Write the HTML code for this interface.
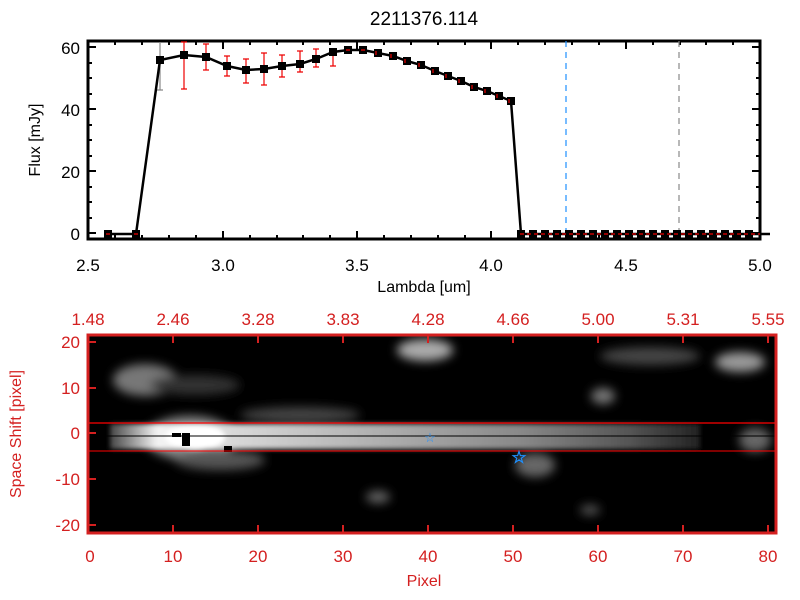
<!DOCTYPE html>
<html><head><meta charset="utf-8"><style>
html,body{margin:0;padding:0;background:#fff;}
svg{display:block;font-family:"Liberation Sans",sans-serif;}
</style></head><body>
<svg width="800" height="600" viewBox="0 0 800 600" xmlns="http://www.w3.org/2000/svg">
<rect width="800" height="600" fill="#fff"/>
<text x="424" y="25" font-size="19" text-anchor="middle">2211376.114</text>
<g stroke="#000" stroke-width="3" fill="none">
<rect x="88" y="41" width="672" height="198"/>
</g>
<g stroke="#000" stroke-width="2">
<path d="M88 47h8M88 109h8M88 171h8M88 233h8M760 47h-8M760 109h-8M760 171h-8M760 233h-8"/>
<path d="M88 63h4M88 78h4M88 94h4M88 125h4M88 140h4M88 156h4M88 187h4M88 202h4M88 218h4M760 63h-4M760 78h-4M760 94h-4M760 125h-4M760 140h-4M760 156h-4M760 187h-4M760 202h-4M760 218h-4"/>
<path d="M223 239v-8M357 239v-8M491 239v-8M626 239v-8M223 41v8M357 41v8M491 41v8M626 41v8"/>
<path d="M115 239v-4M142 239v-4M169 239v-4M196 239v-4M250 239v-4M277 239v-4M303 239v-4M330 239v-4M384 239v-4M411 239v-4M438 239v-4M465 239v-4M518 239v-4M545 239v-4M572 239v-4M599 239v-4M653 239v-4M680 239v-4M706 239v-4M733 239v-4M115 41v4M142 41v4M169 41v4M196 41v4M250 41v4M277 41v4M303 41v4M330 41v4M384 41v4M411 41v4M438 41v4M465 41v4M518 41v4M545 41v4M572 41v4M599 41v4M653 41v4M680 41v4M706 41v4M733 41v4"/>
</g>
<line x1="566" y1="41" x2="566" y2="239" stroke="#1e90ff" stroke-width="1.2" stroke-dasharray="6,5"/>
<line x1="679" y1="41" x2="679" y2="239" stroke="#888" stroke-width="1.2" stroke-dasharray="6,5"/>
<g stroke="#e00" stroke-width="1.2">
<path d="M184 42v47M181 42h6M181 89h6M206 44v26M203 44h6M203 70h6M227 56v20M224 56h6M224 76h6M246 59v24M243 59h6M243 83h6M264 53v32M261 53h6M261 85h6M282 55v22M279 55h6M279 77h6M300 51v21M297 51h6M297 72h6M316 49v18M313 49h6M313 67h6M333 52v14M330 52h6M330 66h6"/>
</g>
<g stroke="#888" stroke-width="1.2"><path d="M160 42v48M157 90h6"/></g>
<polyline fill="none" stroke="#000" stroke-width="2.5" points="108,234 136,234 160,60 184,55 206,57 227,66 246,70 264,69 282,66 300,64 316,59 333,52 348,50 363,50 378,53 393,56 407,61 421,65 435,71 448,76 461,81 474,87 487,91 499,96 511,101 521,234 770,234"/>
<g fill="#000">
<rect x="104" y="230" width="8" height="8"/><rect x="132" y="230" width="8" height="8"/>
<rect x="156" y="56" width="8" height="8"/><rect x="180" y="51" width="8" height="8"/><rect x="202" y="53" width="8" height="8"/><rect x="223" y="62" width="8" height="8"/><rect x="242" y="66" width="8" height="8"/><rect x="260" y="65" width="8" height="8"/><rect x="278" y="62" width="8" height="8"/><rect x="296" y="60" width="8" height="8"/><rect x="312" y="55" width="8" height="8"/><rect x="329" y="48" width="8" height="8"/><rect x="344" y="46" width="8" height="8"/><rect x="359" y="46" width="8" height="8"/><rect x="374" y="49" width="8" height="8"/><rect x="389" y="52" width="8" height="8"/><rect x="403" y="57" width="8" height="8"/><rect x="417" y="61" width="8" height="8"/><rect x="431" y="67" width="8" height="8"/><rect x="444" y="72" width="8" height="8"/><rect x="457" y="77" width="8" height="8"/><rect x="470" y="83" width="8" height="8"/><rect x="483" y="87" width="8" height="8"/><rect x="495" y="92" width="8" height="8"/><rect x="507" y="97" width="8" height="8"/>
<rect x="517" y="230" width="8" height="8"/><rect x="529" y="230" width="8" height="8"/><rect x="541" y="230" width="8" height="8"/><rect x="553" y="230" width="8" height="8"/><rect x="565" y="230" width="8" height="8"/><rect x="577" y="230" width="8" height="8"/><rect x="589" y="230" width="8" height="8"/><rect x="601" y="230" width="8" height="8"/><rect x="613" y="230" width="8" height="8"/><rect x="625" y="230" width="8" height="8"/><rect x="637" y="230" width="8" height="8"/><rect x="649" y="230" width="8" height="8"/><rect x="661" y="230" width="8" height="8"/><rect x="673" y="230" width="8" height="8"/><rect x="685" y="230" width="8" height="8"/><rect x="697" y="230" width="8" height="8"/><rect x="709" y="230" width="8" height="8"/><rect x="721" y="230" width="8" height="8"/><rect x="733" y="230" width="8" height="8"/><rect x="745" y="230" width="8" height="8"/>
</g>
<line x1="520" y1="234" x2="760" y2="234" stroke="#e00" stroke-width="1.2" stroke-dasharray="4,3"/>
<g stroke="#e00" stroke-width="1.2"><path d="M106 234h4M134 234h4M346 50h4M361 50h4M376 51v4M391 54v4M405 59v4M419 63v4M433 69v4M446 74v4M459 79v4M472 85v4M485 89v4M497 94v4M509 99v4"/></g>
<g font-size="17" text-anchor="end">
<text x="80" y="54">60</text><text x="80" y="116">40</text><text x="80" y="178">20</text><text x="80" y="240">0</text>
</g>
<g font-size="17" text-anchor="middle">
<text x="88" y="271">2.5</text><text x="223" y="271">3.0</text><text x="357" y="271">3.5</text><text x="491" y="271">4.0</text><text x="626" y="271">4.5</text><text x="760" y="271">5.0</text>
</g>
<text x="424" y="292" font-size="16" text-anchor="middle">Lambda [um]</text>
<text transform="translate(40,140) rotate(-90)" font-size="16" text-anchor="middle">Flux [mJy]</text>
<defs>
<clipPath id="c"><rect x="88" y="335" width="688" height="198"/></clipPath>
<filter id="b" x="-50%" y="-50%" width="200%" height="200%"><feGaussianBlur stdDeviation="5"/></filter>
<filter id="b2" x="-10%" y="-50%" width="120%" height="200%"><feGaussianBlur stdDeviation="2.5"/></filter>
<linearGradient id="g" x1="0" x2="1" y1="0" y2="0">
<stop offset="0" stop-color="#444"/><stop offset="0.08" stop-color="#f4f4f4"/><stop offset="0.2" stop-color="#dadada"/><stop offset="0.45" stop-color="#b0b0b0"/><stop offset="0.7" stop-color="#888"/><stop offset="0.88" stop-color="#555"/><stop offset="1" stop-color="#222"/>
</linearGradient>
</defs>
<rect x="88" y="335" width="688" height="198" fill="#000"/>
<g clip-path="url(#c)" filter="url(#b)">
<ellipse cx="190" cy="438" rx="45" ry="22" fill="#888"/>
<ellipse cx="145" cy="380" rx="32" ry="16" fill="#777"/>
<ellipse cx="195" cy="385" rx="45" ry="10" fill="#333"/>
<ellipse cx="300" cy="415" rx="60" ry="8" fill="#444"/>
<ellipse cx="425" cy="350" rx="28" ry="11" fill="#aaa"/>
<ellipse cx="740" cy="362" rx="25" ry="10" fill="#999"/>
<ellipse cx="650" cy="356" rx="50" ry="9" fill="#444"/>
<ellipse cx="603" cy="396" rx="12" ry="8" fill="#777"/>
<ellipse cx="378" cy="497" rx="12" ry="6" fill="#666"/>
<ellipse cx="535" cy="465" rx="20" ry="12" fill="#666"/>
<ellipse cx="590" cy="510" rx="10" ry="5" fill="#555"/>
<ellipse cx="755" cy="440" rx="16" ry="12" fill="#666"/>
<ellipse cx="220" cy="460" rx="45" ry="10" fill="#555"/>
</g>
<g clip-path="url(#c)" filter="url(#b2)">
<rect x="110" y="424" width="590" height="25" fill="url(#g)"/>
<ellipse cx="195" cy="437" rx="30" ry="13" fill="#fff"/>
</g>
<rect x="172" y="433" width="9" height="4" fill="#000"/><rect x="182" y="433" width="8" height="13" fill="#000"/><rect x="224" y="446" width="8" height="6" fill="#000"/>
<line x1="88" y1="423" x2="776" y2="423" stroke="#f00" stroke-width="1.3"/>
<line x1="88" y1="451" x2="776" y2="451" stroke="#f00" stroke-width="1"/>
<line x1="88" y1="436" x2="776" y2="436" stroke="#000" stroke-width="1"/>
<text x="430" y="442" font-size="13" fill="#1e90ff" text-anchor="middle">☆</text>
<text x="519" y="463" font-size="17" font-weight="bold" fill="#1e90ff" text-anchor="middle">☆</text>
<g stroke="#d42020" fill="none">
<rect x="88" y="335" width="688" height="198" stroke-width="3"/>
<path stroke-width="2" d="M173 533v-8M258 533v-8M343 533v-8M428 533v-8M513 533v-8M598 533v-8M683 533v-8M768 533v-8M173 335v8M258 335v8M343 335v8M428 335v8M513 335v8M598 335v8M683 335v8M768 335v8M88 342h8M88 388h8M88 433h8M88 479h8M88 525h8"/>
</g>
<g fill="#d42020" font-size="17" text-anchor="middle">
<text x="90" y="562">0</text><text x="173" y="562">10</text><text x="258" y="562">20</text><text x="343" y="562">30</text><text x="428" y="562">40</text><text x="513" y="562">50</text><text x="598" y="562">60</text><text x="683" y="562">70</text><text x="768" y="562">80</text>
<text x="88" y="325">1.48</text><text x="173" y="325">2.46</text><text x="258" y="325">3.28</text><text x="343" y="325">3.83</text><text x="428" y="325">4.28</text><text x="513" y="325">4.66</text><text x="598" y="325">5.00</text><text x="683" y="325">5.31</text><text x="768" y="325">5.55</text>
</g>
<g fill="#d42020" font-size="17" text-anchor="end">
<text x="80" y="348">20</text><text x="80" y="394">10</text><text x="80" y="439">0</text><text x="80" y="485">-10</text><text x="80" y="531">-20</text>
</g>
<text x="424" y="586" font-size="16" fill="#d42020" text-anchor="middle">Pixel</text>
<text transform="translate(21,434) rotate(-90)" font-size="16" fill="#d42020" text-anchor="middle">Space Shift [pixel]</text>
</svg>
</body></html>
